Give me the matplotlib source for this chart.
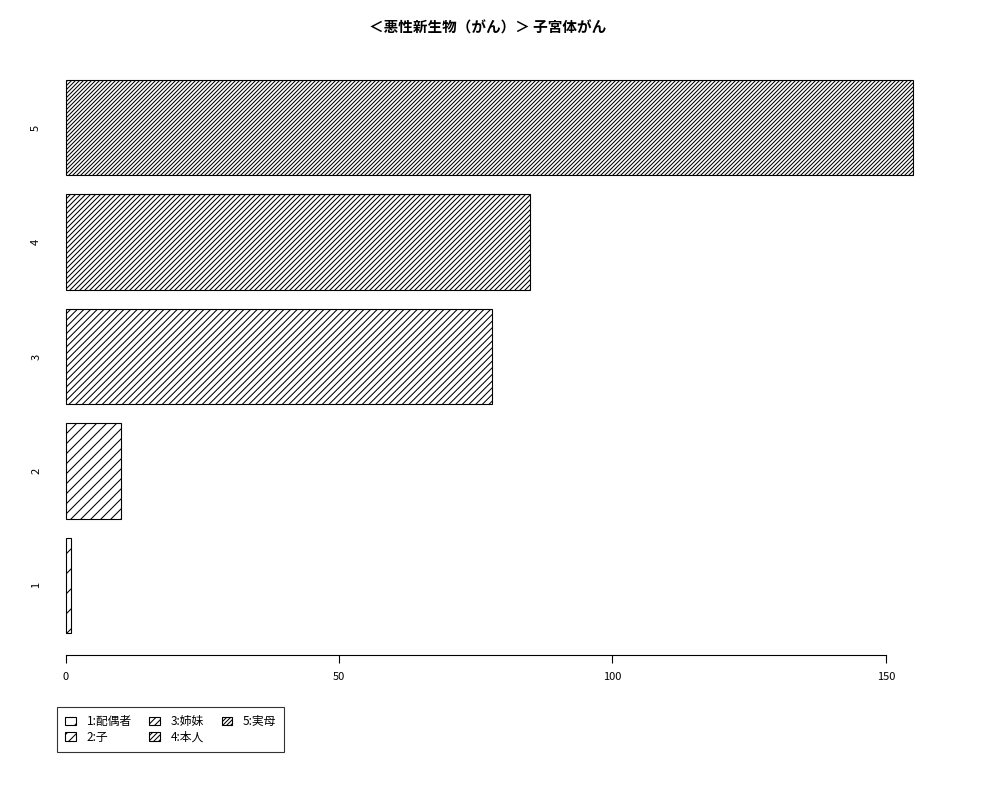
import matplotlib
matplotlib.use("Agg")
import matplotlib.pyplot as plt
import matplotlib.backend_bases as bb

# hatch density: number of '/' chars = lines per inch (even line count avoids tile seams)
_orig = bb.GraphicsContextBase.get_hatch_path
def _ghp(self, density=6.0):
    return _orig(self, density=2.0)
bb.GraphicsContextBase.get_hatch_path = _ghp

plt.rcParams['font.family'] = ['Noto Sans CJK JP', 'DejaVu Sans']
plt.rcParams['hatch.linewidth'] = 0.75
plt.rcParams['hatch.color'] = 'black'

categories = ['1', '2', '3', '4', '5']
values = [1, 10, 78, 85, 155]
legend_labels = ['1:配偶者', '2:子', '3:姉妹', '4:本人', '5:実母']
densities = [5, 10, 15, 20, 25]
xticks = [0, 50, 100, 150]
title = '＜悪性新生物（がん）＞ 子宮体がん'

fig = plt.figure(figsize=(10, 8), dpi=100)
ax = fig.add_axes([0.032, (800 - 655) / 800, 0.915, (655 - 58) / 800])

ypos = [0.7 + 1.2 * i for i in range(len(values))]
bars = []
for y, v, d, lab in zip(ypos, values, densities, legend_labels):
    b = ax.barh(y, v, height=1.0, facecolor='white', edgecolor='black',
                linewidth=0.8, hatch='/' * d, label=lab)
    bars.append(b)

xmax = max(values)
ax.set_xlim(-0.04 * xmax, xmax * 1.04)
ax.set_ylim(0.2 - 0.04 * 5.8, 6.0 + 0.04 * 5.8)
for s in ['top', 'right', 'left']:
    ax.spines[s].set_visible(False)
ax.spines['bottom'].set_bounds(xticks[0], xticks[-1])
ax.spines['bottom'].set_linewidth(0.8)
ax.set_xticks(xticks)
ax.set_xticklabels([str(t) for t in xticks], fontsize=8)
ax.tick_params(axis='x', length=6, width=0.8, pad=6)
ax.set_yticks(ypos)
ax.set_yticklabels(categories, rotation=90, fontsize=8, va='center', ha='center')
ax.tick_params(axis='y', length=0, pad=-3)

fig.text(0.488, 1 - 28 / 800, title, ha='center', va='center',
         fontsize=10.5, fontweight='bold')

leg = fig.legend(handles=[b[0] for b in bars], labels=legend_labels,
                 ncol=3, loc='upper left',
                 bbox_to_anchor=(57 / 1000, 1 - 707 / 800),
                 fontsize=8.5, frameon=True, fancybox=False,
                 edgecolor='black', handlelength=0.9, handleheight=0.7,
                 handletextpad=0.9, columnspacing=1.5, labelspacing=0.2,
                 borderpad=0.7, borderaxespad=0)
leg.get_frame().set_linewidth(0.8)

fig.savefig('out.png', dpi=100)
